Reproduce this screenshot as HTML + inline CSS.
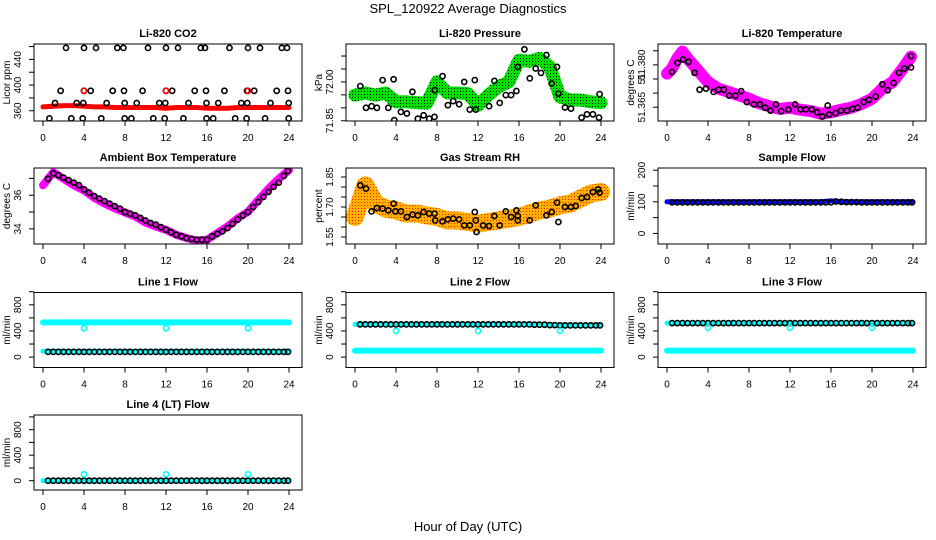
<!DOCTYPE html>
<html><head><meta charset="utf-8">
<style>
html,body{margin:0;padding:0;background:#fff;}
svg{display:block;font-family:"Liberation Sans",Arial,sans-serif;}
</style></head>
<body>
<svg id="chart" width="936" height="540" viewBox="0 0 936 540" xmlns="http://www.w3.org/2000/svg">
<defs>
<pattern id="greenSpeck" width="3" height="3" patternUnits="userSpaceOnUse"><rect width="3" height="3" fill="#00e000"/><rect x="1" y="1" width="1" height="1" fill="#000"/></pattern>
<pattern id="orangeSpeck" width="3" height="3" patternUnits="userSpaceOnUse"><rect width="3" height="3" fill="#ffb000"/><rect x="1" y="1" width="1" height="1" fill="#ff2000"/></pattern>
</defs>
<text x="468" y="13" text-anchor="middle" font-size="13">SPL_120922  Average Diagnostics</text>
<text x="468" y="531" text-anchor="middle" font-size="13">Hour of Day (UTC)</text>
</svg>
<script>
// ---------- data ----------
const hourly = [0,1,2,3,4,5,6,7,8,9,10,11,12,13,14,15,16,17,18,19,20,21,22,23,24];
const halfHours = [0.5,1,1.5,2,2.5,3,3.5,4,4.5,5,5.5,6,6.5,7,7.5,8,8.5,9,9.5,10,10.5,11,11.5,12,12.5,13,13.5,14,14.5,15,15.5,16,16.5,17,17.5,18,18.5,19,19.5,20,20.5,21,21.5,22,22.5,23,23.5,23.9];
const xTicks = [0,4,8,12,16,20,24];

// CO2
const co2Red = [366,367,368,368,367,366,366,365,365,365,365,365,364,365,365,365,364,364,364,365,365,365,365,365,365];
const co2TopH = [2.24,4.0,5.17,7.25,7.84,10.24,12.0,13.17,15.4,15.8,18.2,20.0,21.17,23.3,23.8];
const co2TopV = [458,458,458,458,458,458,458,458,458,458,458,458,458,458,458];
const co2HiH = [1.72,4.0,4.65,6.8,7.9,9.72,12.0,12.6,14.8,15.9,17.7,19.9,20.6,22.8,23.9];
const co2HiV = [391,391,391,391,391,391,391,391,391,391,391,391,391,391,391];
const co2MidH = [1.17,3.29,3.93,6.2,7.97,9.14,11.35,11.93,14.2,15.95,17.1,19.35,19.93,22.2,23.97];
const co2MidV = [372,372,372,372,372,372,372,372,372,372,372,372,372,372,372];
const co2LoH = [0.62,2.76,3.87,5.69,7.97,8.62,10.76,11.87,13.7,15.95,16.6,18.75,19.86,21.67,23.97];
const co2LoV = [348,348,348,348,348,348,348,348,348,348,348,348,348,348,348];
const co2RedPtsH = [4,12,20];
const co2RedPtsV = [391,391,391];

// Pressure
const presGreen = [71.949,71.957,71.949,71.957,71.923,71.923,71.920,71.918,72.000,71.957,71.957,71.955,71.910,71.949,71.981,72.000,72.084,72.080,72.091,72.058,71.942,71.930,71.930,71.923,71.920];
const presBlackH = [0.52,1.07,1.62,2.14,2.69,3.25,3.77,3.83,4.48,5.06,5.6,6.14,6.69,7.24,7.76,7.79,8.54,9.06,9.58,10.16,10.65,11.2,11.69,11.79,13.08,13.6,14.12,14.71,15.23,15.75,15.88,16.53,17.05,17.63,18.15,18.67,19.19,19.71,19.84,20.49,21.07,22.11,22.63,23.21,23.8,23.86];
const presBlackV = [71.984,71.900,71.906,71.900,72.007,71.900,72.010,71.852,71.884,71.878,71.962,71.858,71.871,71.858,71.865,71.968,72.022,71.910,71.926,71.914,72.000,71.893,72.007,71.893,71.906,72.004,71.919,71.949,71.949,71.965,72.058,72.126,72.014,72.052,72.035,72.104,71.994,72.058,71.955,71.901,71.897,71.862,71.875,71.875,71.862,71.953];

// Li-820 temperature
const tempBandH = [0,0.5,1,1.5,2,3,4,5,6,7,8,9,10,11,12,13,14,15,16,17,18,19,20,21,22,23,23.8];
const tempBandV = [51.3769,51.3787,51.3823,51.3847,51.3823,51.3781,51.3739,51.3716,51.3704,51.3692,51.3680,51.3664,51.3653,51.3644,51.3648,51.3641,51.3636,51.3627,51.3632,51.3641,51.3648,51.3662,51.3680,51.3716,51.3739,51.3787,51.3829];
const tempBlackH = [0.49,1.01,1.56,2.11,2.69,3.18,3.8,4.55,5.03,5.55,6.07,6.66,7.24,7.79,8.47,9.06,9.58,10.1,10.62,11.14,11.85,12.5,13.02,13.54,14.12,14.64,15.16,15.68,15.81,16.46,16.98,17.56,18.08,18.6,19.19,19.71,20.36,21.01,21.53,22.11,22.63,23.15,23.8,23.8];
const tempBlackV = [51.3775,51.3807,51.3819,51.3811,51.3772,51.3712,51.3716,51.3704,51.3712,51.3712,51.3691,51.3691,51.3707,51.3668,51.3660,51.3660,51.3648,51.3638,51.3660,51.3636,51.3641,51.3660,51.3642,51.3642,51.3642,51.3632,51.3617,51.3656,51.3624,51.3629,51.3638,51.3638,51.3644,51.3648,51.3668,51.3676,51.3688,51.3731,51.3710,51.3736,51.3772,51.3787,51.3791,51.3831];

// Ambient box temperature
const ambBand = [36.59,37.37,36.98,36.59,36.29,35.84,35.51,35.22,34.98,34.73,34.38,34.14,33.94,33.65,33.45,33.31,33.35,33.75,34.14,34.63,35.02,35.71,36.39,36.98,37.50];
const ambBlack = [36.98,37.30,37.20,37.05,36.90,36.75,36.60,36.35,36.15,35.95,35.80,35.65,35.50,35.35,35.20,35.00,34.90,34.80,34.65,34.50,34.35,34.25,34.10,33.95,33.80,33.65,33.55,33.45,33.40,33.35,33.35,33.35,33.55,33.70,33.85,34.05,34.30,34.55,34.80,35.00,35.30,35.60,35.90,36.20,36.50,36.75,37.15,37.45];

// RH
const rhBand = [1.650,1.808,1.717,1.692,1.683,1.667,1.667,1.658,1.650,1.633,1.633,1.625,1.617,1.625,1.633,1.642,1.650,1.667,1.683,1.692,1.708,1.717,1.742,1.767,1.775];
const rhBlackH = [0.52,1.07,1.62,2.14,2.69,3.25,3.77,3.93,4.48,5.06,5.62,6.14,6.69,7.24,7.76,7.82,8.54,9.06,9.58,10.16,10.65,11.2,11.69,11.79,11.85,12.5,13.08,13.6,14.12,14.71,15.23,15.75,15.88,15.88,17.05,17.63,18.67,19.19,19.71,19.84,20.49,21.07,21.53,22.11,22.63,23.21,23.73,23.86];
const rhBlackV = [1.808,1.792,1.678,1.695,1.692,1.683,1.717,1.678,1.678,1.650,1.662,1.658,1.675,1.667,1.667,1.633,1.628,1.638,1.642,1.638,1.608,1.608,1.675,1.633,1.575,1.608,1.605,1.655,1.608,1.678,1.650,1.683,1.655,1.633,1.633,1.708,1.658,1.675,1.722,1.625,1.700,1.700,1.705,1.745,1.750,1.775,1.788,1.772];

// Sample flow
const sampleBlue = [100,100,100,100,100,100,100,100,100,100,100,100,100,100,100,100,103,100,100,100,100,100,100,100,100];
const sampleBlack = [98,98,98,98,98,98,98,98,98,98,98,98,98,98,98,98,98,98,98,98,98,98,98,98,98,98,98,98,98,98,98,98,101,100,99,99,99,98,98,98,98,98,98,98,98,98,98,98];

// Line flows
const line1CyanHi = [530,530,530,530,530,530,530,530,530,530,530,530,530,530,530,530,530,530,530,530,530,530,530,530,530];
const line1CyanLo = [90,90,90,90,90,90,90,90,90,90,90,90,90,90,90,90,90,90,90,90,90,90,90,90,90];
const line1Black = [80,80,80,80,80,80,80,80,80,80,80,80,80,80,80,80,80,80,80,80,80,80,80,80,80,80,80,80,80,80,80,80,80,80,80,80,80,80,80,80,80,80,80,80,80,80,80,80];
const line2CyanHi = [500,500,500,500,500,500,500,500,500,500,500,500,500,500,500,500,500,500,500,495,490,490,490,490,490];
const line2CyanLo = [100,100,100,100,100,100,100,100,100,100,100,100,100,100,100,100,100,100,100,100,100,100,100,100,100];
const line2Black = [500,500,500,500,500,500,500,500,500,500,500,500,500,500,500,500,500,500,500,500,500,500,500,500,500,500,500,500,500,500,500,500,500,500,495,495,495,490,490,485,485,485,485,485,485,485,485,485];
const line3CyanHi = [520,520,520,520,520,520,520,520,520,520,520,520,520,520,520,520,520,520,520,520,520,520,520,520,520];
const line3CyanLo = [100,100,100,100,100,100,100,100,100,100,100,100,100,100,100,100,100,100,100,100,100,100,100,100,100];
const line3Black = [520,520,520,520,520,520,520,520,520,520,520,520,520,520,520,520,520,520,520,520,520,520,520,520,520,520,520,520,520,520,520,520,520,520,520,520,520,520,520,520,520,520,520,520,520,520,520,520];
const line4Cyan = [0,0,0,0,0,0,0,0,0,0,0,0,0,0,0,0,0,0,0,0,0,0,0,0,0];
const line4Black = [0,0,0,0,0,0,0,0,0,0,0,0,0,0,0,0,0,0,0,0,0,0,0,0,0,0,0,0,0,0,0,0,0,0,0,0,0,0,0,0,0,0,0,0,0,0,0,0];
const outlierHours = [4,12,20];
const line1Out = [440,440,440];
const line2Out = [400,400,400];
const line3Out = [450,450,450];
const line4Out = [100,100,100];

// ---------- drawing ----------
const NS = 'http://www.w3.org/2000/svg';
const svg = document.getElementById('chart');
function mk(tag, attrs, parent){
  const e = document.createElementNS(NS, tag);
  for (const k in attrs) e.setAttribute(k, attrs[k]);
  (parent || svg).appendChild(e);
  return e;
}
const rowTop = [44,168,292.5,415];
const rowH = [77,76,75,75];

function panel(cfg){
  const left = 34 + 312*cfg.col, top = rowTop[cfg.row], h = rowH[cfg.row], w = 268;
  const g = mk('g', {});
  
  
  const xs = hr => left + 9 + hr * (246/24);
  const ys = v => top + (cfg.yMax - v) / (cfg.yMax - cfg.yMin) * h;
  const clipId = 'clip-' + cfg.name;
  const cp = mk('clipPath', {id: clipId}, g);
  mk('rect', {x: left, y: top, width: w, height: h}, cp);
  const plot = mk('g', {'clip-path': 'url(#' + clipId + ')'}, g);
  
  
  (cfg.bands || []).forEach(b => {
    const pts = b.h.map((hr,i) => xs(hr).toFixed(1) + ',' + ys(b.v[i]).toFixed(1)).join(' ');
    const pl = mk('polyline', {points: pts, fill: 'none', stroke: b.color, 'stroke-width': b.w, 'stroke-linejoin': 'round', 'stroke-linecap': 'round'}, plot);
    
    
  });
  (cfg.points || []).forEach(p => {
    p.h.forEach((hr,i) => {
      const c = mk('circle', {cx: xs(hr).toFixed(1), cy: ys(p.v[i]).toFixed(1), r: 2.6, fill: 'none', stroke: p.color, 'stroke-width': 1.6}, plot);
      
      
    });
  });
  const box = mk('rect', {x: left, y: top, width: w, height: h, fill: 'none', stroke: '#000', 'stroke-width': 1}, g);
  
  
  const t = mk('text', {x: left + w/2, y: top - 7, 'text-anchor': 'middle', 'font-size': 11, 'font-weight': 'bold'}, g);
  t.textContent = cfg.title;
  
  
  mk('line', {x1: xs(0), x2: xs(24), y1: top + h, y2: top + h, stroke: '#000'}, g);
  xTicks.forEach(v => {
    mk('line', {x1: xs(v), x2: xs(v), y1: top + h, y2: top + h + 5, stroke: '#000'}, g);
    const lt = mk('text', {x: xs(v), y: top + h + 20, 'text-anchor': 'middle', 'font-size': 10}, g);
    lt.textContent = v;
    
    
  });
  cfg.yTicks.forEach(v => {
    mk('line', {x1: left - 5, x2: left, y1: ys(v), y2: ys(v), stroke: '#000'}, g);
  });
  cfg.yLabelVals.forEach((v,i) => {
    const yy = ys(v);
    const lt = mk('text', {x: left - 13, y: yy, 'text-anchor': 'middle', 'font-size': 10, transform: 'rotate(-90 ' + (left-13) + ' ' + yy + ')'}, g);
    lt.textContent = cfg.yLabelText[i];
    
    
  });
  const yt = mk('text', {x: left - 24, y: top + h/2, 'text-anchor': 'middle', 'font-size': 10, transform: 'rotate(-90 ' + (left-24) + ' ' + (top + h/2) + ')'}, g);
  yt.textContent = cfg.yTitle;
  
  
}

panel({name:'co2-panel', col:0, row:0, title:'Li-820 CO2', yTitle:'Licor ppm', yMin:344, yMax:464,
  yTicks:[360,380,400,420,440,460], yLabelVals:[360,400,440], yLabelText:['360','400','440'],
  bands:[{name:'co2-band', h:hourly, v:co2Red, color:'#ff0000', w:5}],
  points:[{name:'co2-point', h:co2TopH, v:co2TopV, color:'#000'},{name:'co2-point', h:co2HiH, v:co2HiV, color:'#000'},
          {name:'co2-point', h:co2MidH, v:co2MidV, color:'#000'},{name:'co2-point', h:co2LoH, v:co2LoV, color:'#000'},
          {name:'co2-red-point', h:co2RedPtsH, v:co2RedPtsV, color:'#ff0000'}]});
panel({name:'pressure-panel', col:1, row:0, title:'Li-820 Pressure', yTitle:'kPa', yMin:71.849, yMax:72.1465,
  yTicks:[71.85,71.90,71.95,72.00,72.05,72.10], yLabelVals:[71.85,72.00], yLabelText:['71.85','72.00'],
  bands:[{name:'pressure-band', h:hourly, v:presGreen, color:'url(#greenSpeck)', w:13}],
  points:[{name:'pressure-point', h:presBlackH, v:presBlackV, color:'#000'}]});
panel({name:'li820-temp-panel', col:2, row:0, title:'Li-820 Temperature', yTitle:'degrees C', yMin:51.3601, yMax:51.3874,
  yTicks:[51.365,51.370,51.375,51.380,51.385], yLabelVals:[51.365,51.375,51.380], yLabelText:['51.365','51','51.380'],
  bands:[{name:'li820-temp-band', h:tempBandH, v:tempBandV, color:'#ff00ff', w:12}],
  points:[{name:'li820-temp-point', h:tempBlackH, v:tempBlackV, color:'#000'}]});
panel({name:'ambient-temp-panel', col:0, row:1, title:'Ambient Box Temperature', yTitle:'degrees C', yMin:33.1, yMax:37.62,
  yTicks:[34,35,36,37], yLabelVals:[34,36], yLabelText:['34','36'],
  bands:[{name:'ambient-temp-band', h:hourly, v:ambBand, color:'#ff00ff', w:8}],
  points:[{name:'ambient-temp-point', h:halfHours, v:ambBlack, color:'#000'}]});
panel({name:'rh-panel', col:1, row:1, title:'Gas Stream RH', yTitle:'percent', yMin:1.515, yMax:1.895,
  yTicks:[1.55,1.60,1.65,1.70,1.75,1.80,1.85], yLabelVals:[1.55,1.70,1.85], yLabelText:['1.55','1.70','1.85'],
  bands:[{name:'rh-band', h:hourly, v:rhBand, color:'url(#orangeSpeck)', w:18}],
  points:[{name:'rh-point', h:rhBlackH, v:rhBlackV, color:'#000'}]});
panel({name:'sample-flow-panel', col:2, row:1, title:'Sample Flow', yTitle:'ml/min', yMin:-33.5, yMax:207,
  yTicks:[0,50,100,150,200], yLabelVals:[0,100,200], yLabelText:['0','100','200'],
  bands:[{name:'sample-flow-band', h:hourly, v:sampleBlue, color:'#0000ff', w:5}],
  points:[{name:'sample-flow-point', h:halfHours, v:sampleBlack, color:'#000'}]});
const flowTicks = [0,200,400,600,800,1000];
panel({name:'line1-flow-panel', col:0, row:2, title:'Line 1 Flow', yTitle:'ml/min', yMin:-159, yMax:988,
  yTicks:flowTicks, yLabelVals:[0,400,800], yLabelText:['0','400','800'],
  bands:[{name:'line1-cyan-high', h:hourly, v:line1CyanHi, color:'#00ffff', w:6},{name:'line1-cyan-low', h:hourly, v:line1CyanLo, color:'#00ffff', w:5}],
  points:[{name:'line1-point', h:halfHours, v:line1Black, color:'#000'},{name:'line1-outlier', h:outlierHours, v:line1Out, color:'#00ffff'}]});
panel({name:'line2-flow-panel', col:1, row:2, title:'Line 2 Flow', yTitle:'ml/min', yMin:-159, yMax:988,
  yTicks:flowTicks, yLabelVals:[0,400,800], yLabelText:['0','400','800'],
  bands:[{name:'line2-cyan-high', h:hourly, v:line2CyanHi, color:'#00ffff', w:5},{name:'line2-cyan-low', h:hourly, v:line2CyanLo, color:'#00ffff', w:6}],
  points:[{name:'line2-point', h:halfHours, v:line2Black, color:'#000'},{name:'line2-outlier', h:outlierHours, v:line2Out, color:'#00ffff'}]});
panel({name:'line3-flow-panel', col:2, row:2, title:'Line 3 Flow', yTitle:'ml/min', yMin:-159, yMax:988,
  yTicks:flowTicks, yLabelVals:[0,400,800], yLabelText:['0','400','800'],
  bands:[{name:'line3-cyan-high', h:hourly, v:line3CyanHi, color:'#00ffff', w:5},{name:'line3-cyan-low', h:hourly, v:line3CyanLo, color:'#00ffff', w:6}],
  points:[{name:'line3-point', h:halfHours, v:line3Black, color:'#000'},{name:'line3-outlier', h:outlierHours, v:line3Out, color:'#00ffff'}]});
panel({name:'line4-flow-panel', col:0, row:3, title:'Line 4 (LT) Flow', yTitle:'ml/min', yMin:-146, yMax:1030,
  yTicks:flowTicks, yLabelVals:[0,400,800], yLabelText:['0','400','800'],
  bands:[{name:'line4-cyan', h:hourly, v:line4Cyan, color:'#00ffff', w:5}],
  points:[{name:'line4-point', h:halfHours, v:line4Black, color:'#000'},{name:'line4-outlier', h:outlierHours, v:line4Out, color:'#00ffff'}]});
</script>
</body></html>
